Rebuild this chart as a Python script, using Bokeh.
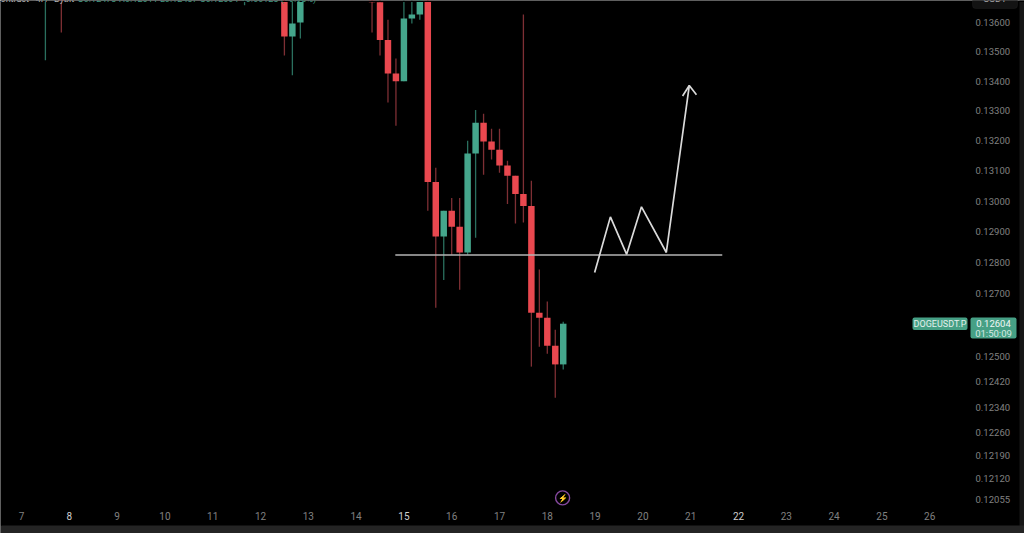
from bokeh.plotting import figure
from bokeh.models import FixedTicker, LinearAxis, LogAxis, Label, BoxAnnotation, Range1d
from bokeh.embed import file_html
from bokeh.resources import INLINE

# 4H candles: slot = number of 4-hour bars since day 7
slots  = [3, 5, 27, 28, 33, 34, 35, 44, 45, 46, 47, 48, 49, 50, 51, 52, 53, 54, 55, 56, 57, 58, 59, 60, 61, 62, 63, 64, 65, 66, 67, 68]
opens  = [.1372, .1378, .1378, .1372, .1371, .13552, .1360, .1370, .1367, .1354, .13426, .1340, .13614, .13628, .1375, .13063, .12884, .12968, .12916, .12832, .13157, .1326, .13197, .1317, .13117, .13083, .13023, .12984, .12638, .12622, .12533, .12474]
highs  = [.1382, .1382, .1382, .1382, .1380, .1372, .1374, .1375, .1372, .13610, .13477, .1372, .1372, .1372, .1380, .1311, .12968, .1301, .1301, .1320, .13303, .1329, .1324, .1324, .13133, .13083, .13628, .13067, .12777, .12674, .12584, .12609]
lows   = [.13471, .13566, .1368, .1366, .13487, .1342, .13545, .13566, .13487, .13328, .1325, .1340, .13597, .1361, .12968, .12654, .12743, .12825, .12712, .12825, .1288, .13087, .13137, .13093, .1299, .12926, .1293, .12467, .1253, .12508, .12369, .12458]
closes = [.1378, .1372, .1372, .1378, .13552, .13597, .1372, .1367, .1354, .13426, .1340, .13614, .13628, .1372, .13063, .12884, .12968, .12916, .12832, .13157, .1326, .13197, .1317, .13117, .13083, .13023, .12984, .12638, .12622, .12533, .12474, .12603]

# drawn annotations
level_days   = [14.82, 21.66]
level_prices = [.12824, .12824]
path_days    = [18.99, 19.32, 19.66, 19.97, 20.49, 20.97]
path_prices  = [.12767, .12948, .12826, .12981, .12832, .13385]
head_days    = [20.83, 20.97, 21.12]
head_prices  = [.1335, .13385, .13354]

# axes
y_ticks = [.136, .135, .134, .133, .132, .131, .130, .129, .128, .127, .125, .1242, .1234, .1226, .1219, .1212, .12055]
y_tick_labels = ["0.13600", "0.13500", "0.13400", "0.13300", "0.13200", "0.13100", "0.13000", "0.12900", "0.12800", "0.12700", "0.12500", "0.12420", "0.12340", "0.12260", "0.12190", "0.12120", "0.12055"]
x_ticks = [7, 9, 10, 11, 12, 13, 14, 16, 17, 18, 19, 20, 21, 23, 24, 25, 26]
x_ticks_bright = [8, 15, 22]

BG = "#000000"
RED, GREEN = "#E9484F", "#45A68C"
RED_W, GREEN_W = "#7E2F34", "#2A6F5E"
TAG = "#46A085"
GREY = "#808080"
FONT = "Roboto"
X_AXIS_AT = .12046
Y_AXIS_AT = 26.812

p = figure(width=1024, height=533, output_backend="svg", toolbar_location=None,
           y_axis_type="log", y_axis_location=None, x_axis_location=None,
           x_range=Range1d(6.5607, 27.983), y_range=Range1d(.11952, .13676),
           min_border=0,
           background_fill_color=BG, border_fill_color=BG, outline_line_color=None)
p.grid.visible = False

days = [7 + s / 6 for s in slots]
wick_col = [GREEN_W if c >= o else RED_W for o, c in zip(opens, closes)]
body_col = [GREEN if c >= o else RED for o, c in zip(opens, closes)]
p.segment(days, lows, days, highs, color=wick_col, line_width=1.3)
p.vbar(x=days, width=0.135, top=opens, bottom=closes, fill_color=body_col, line_color=None)

p.line(level_days, level_prices, color="#B4B4B4", line_width=1.5)
p.line(path_days, path_prices, color="#DADADA", line_width=1.7)
p.line(head_days, head_prices, color="#DADADA", line_width=1.7)

# y axis
yax = LogAxis(ticker=FixedTicker(ticks=y_ticks), fixed_location=Y_AXIS_AT)
yax.major_label_overrides = dict(zip(y_ticks, y_tick_labels))
yax.axis_line_color = None
yax.major_tick_line_color = None
yax.minor_tick_line_color = None
yax.major_label_standoff = 1
yax.major_label_text_color = GREY
yax.major_label_text_font = FONT
yax.major_label_text_font_size = "9.5px"
p.add_layout(yax, "right")

# x axes
def add_x(ticks, color):
    ax = LinearAxis(ticker=FixedTicker(ticks=ticks), fixed_location=X_AXIS_AT)
    ax.axis_line_color = None
    ax.major_tick_line_color = None
    ax.minor_tick_line_color = None
    ax.major_label_standoff = 3
    ax.major_label_text_color = color
    ax.major_label_text_font = FONT
    ax.major_label_text_font_size = "10px"
    p.add_layout(ax, "below")

add_x(x_ticks, GREY)
add_x(x_ticks_bright, "#CFCFCF")

def box(l, r, t, b, fill, line=None, radius=0):
    p.add_layout(BoxAnnotation(left=l, right=r, top=t, bottom=b,
                               left_units="canvas", right_units="canvas", top_units="canvas", bottom_units="canvas",
                               fill_color=fill, fill_alpha=1, line_color=line, border_radius=radius, level="overlay"))

def text(x, y, s, color, size="10px", align="left", baseline="middle"):
    p.add_layout(Label(x=x, y=y, x_units="canvas", y_units="canvas", text=s, text_color=color,
                       text_font=FONT, text_font_size=size, text_align=align, text_baseline=baseline, level="overlay"))

# window strips and edge cover
box(1019, 1024, 0, 533, "#161616")
box(0, 1024, 525, 533, "#242424")
box(0, 1024, 0, 1.5, BG)
box(0, 1.5, 0, 525, BG)

# clipped header line
text(0, -2, "ontract · 4H · Bybit", "#B5B5B5", "9px", baseline="alphabetic")
text(77, -2, "O0.12473 H0.12611 L0.12437 C0.12604 +0.00123 (+0.98%)", "#3E9A80", "9px", baseline="alphabetic")

# USDT button
box(972, 1017, -6, 8, "#131313", "#2A2A2A", 3)
text(994.5, -2, "USDT", "#A8A8A8", "9.5px", align="center", baseline="alphabetic")

# price tags
box(912, 967, 317, 329.5, TAG, None, 2)
text(939.5, 323.5, "DOGEUSDT.P", "#E4F1ED", "9px", align="center")
box(970, 1016, 317, 338, TAG, None, 2)
text(993, 323, "0.12604", "#F0F7F5", "9.5px", align="center")
text(993, 333, "01:50:09", "#D5E8E2", "9.5px", align="center")

# bolt icon
p.scatter([18.32], [.1206], marker="circle", size=14, fill_color=None, line_color="#86499F", line_width=1.4)
text(562, 497.5, "⚡", "#A45CC0", "8px", align="center")

open("out.html", "w").write(file_html(p, INLINE))
